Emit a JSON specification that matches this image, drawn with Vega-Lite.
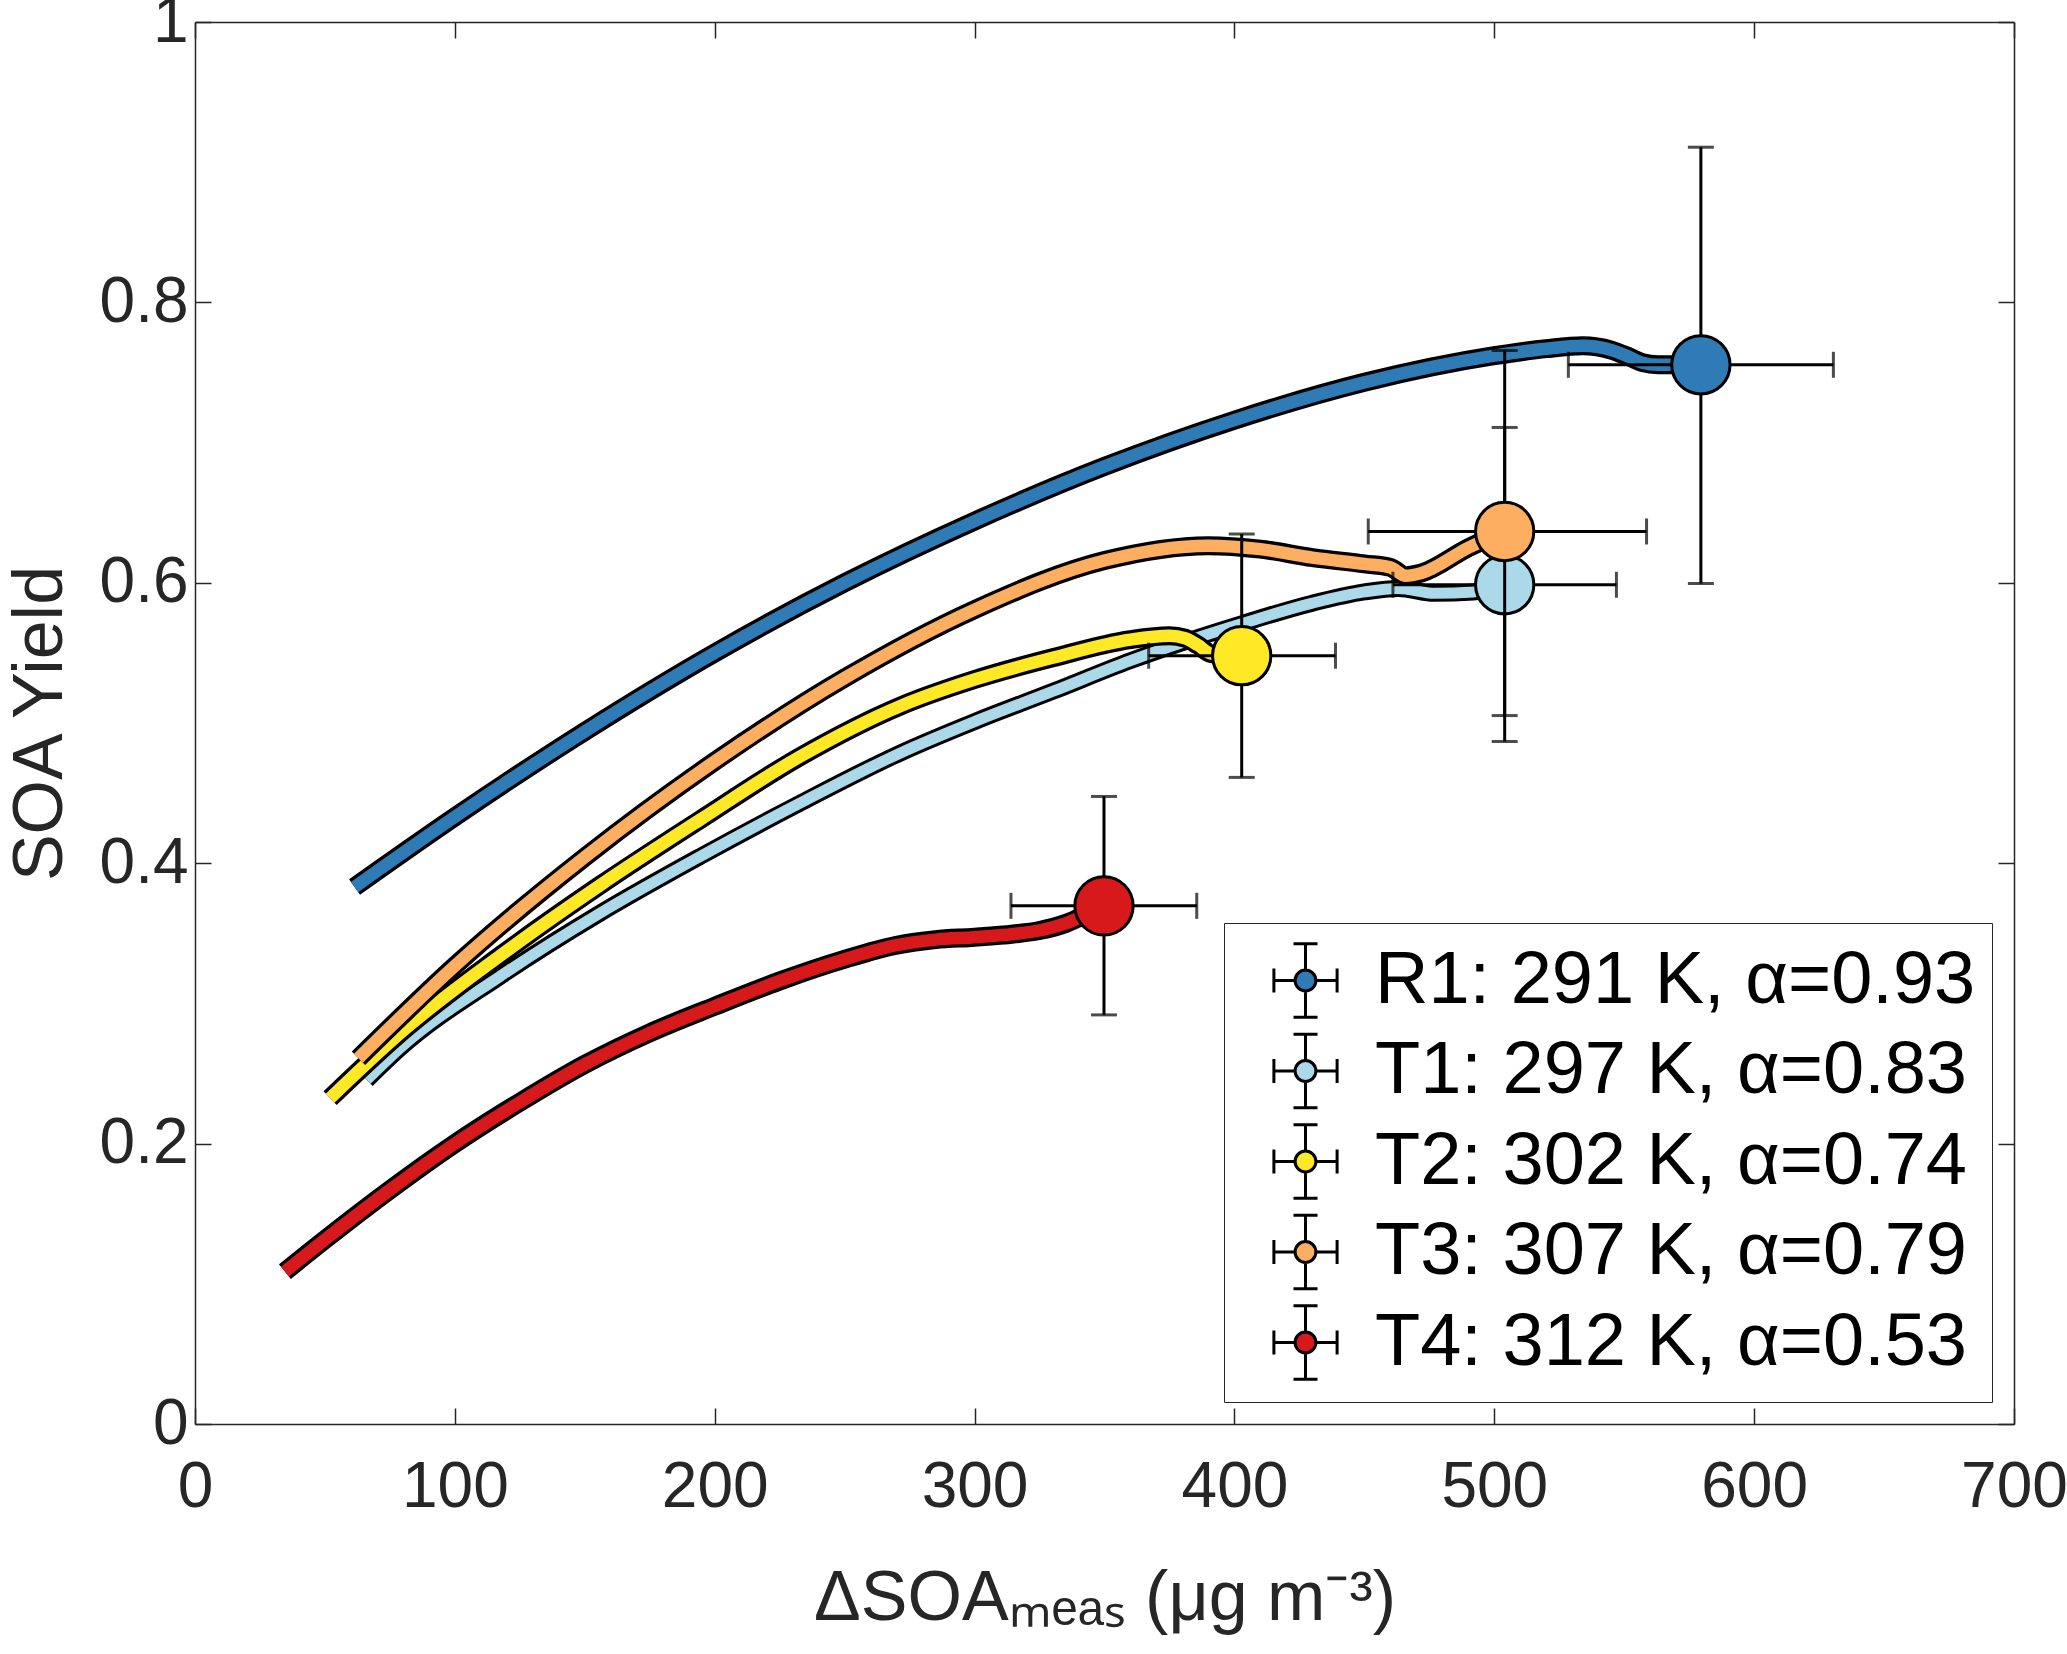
{
  "$schema": "https://vega.github.io/schema/vega-lite/v6.json",
  "width": 1819,
  "height": 1402,
  "autosize": {"type": "none"},
  "padding": {"left": 195, "top": 22, "right": 53, "bottom": 230},
  "background": "white",
  "config": {
    "view": {"stroke": null},
    "font": "Liberation Sans",
    "axis": {
      "domainColor": "#262626", "domainWidth": 1.5,
      "tickColor": "#262626", "tickWidth": 1.5, "tickSize": -16,
      "labelColor": "#262626", "labelFontSize": 64, "labelFont": "Liberation Sans",
      "titleFont": "Liberation Sans", "titleFontSize": 70, "titleFontWeight": "normal", "titleColor": "#262626",
      "grid": false, "labelFlush": false, "labelOverlap": false
    },
    "legend": {
      "orient": "bottom-right", "offset": 22, "padding": 16, "rowPadding": 3.5, "titlePadding": 0,
      "symbolOffset": 24, "labelOffset": 28, "labelFontSize": 74, "labelFont": "Liberation Sans",
      "labelColor": "black", "labelLimit": 1000, "strokeColor": "#262626", "fillColor": "white",
      "symbolSize": 6400, "symbolStrokeColor": "black", "symbolStrokeWidth": 3
    }
  },
  "datasets": {
    "curves": [
      {"s": "R1", "x": 61.4, "y": 0.383}, {"s": "R1", "x": 100, "y": 0.433}, {"s": "R1", "x": 150, "y": 0.494},
      {"s": "R1", "x": 200, "y": 0.55}, {"s": "R1", "x": 250, "y": 0.6}, {"s": "R1", "x": 300, "y": 0.644},
      {"s": "R1", "x": 350, "y": 0.683}, {"s": "R1", "x": 400, "y": 0.716}, {"s": "R1", "x": 450, "y": 0.743},
      {"s": "R1", "x": 500, "y": 0.762}, {"s": "R1", "x": 520, "y": 0.767}, {"s": "R1", "x": 534, "y": 0.769},
      {"s": "R1", "x": 545, "y": 0.766}, {"s": "R1", "x": 552, "y": 0.761}, {"s": "R1", "x": 557, "y": 0.757},
      {"s": "R1", "x": 563, "y": 0.7555}, {"s": "R1", "x": 580, "y": 0.7555},
      {"s": "T1", "x": 66.1, "y": 0.2454}, {"s": "T1", "x": 78.9, "y": 0.268}, {"s": "T1", "x": 117.4, "y": 0.3193},
      {"s": "T1", "x": 155.9, "y": 0.3644}, {"s": "T1", "x": 194.3, "y": 0.4047}, {"s": "T1", "x": 232.8, "y": 0.4428},
      {"s": "T1", "x": 271.3, "y": 0.4785}, {"s": "T1", "x": 300, "y": 0.501}, {"s": "T1", "x": 330, "y": 0.5225},
      {"s": "T1", "x": 360, "y": 0.5445}, {"s": "T1", "x": 404, "y": 0.5715}, {"s": "T1", "x": 430, "y": 0.5855},
      {"s": "T1", "x": 450, "y": 0.5935}, {"s": "T1", "x": 463, "y": 0.596}, {"s": "T1", "x": 477, "y": 0.5925},
      {"s": "T1", "x": 492, "y": 0.5935}, {"s": "T1", "x": 504, "y": 0.5986},
      {"s": "T2", "x": 52, "y": 0.2324}, {"s": "T2", "x": 78.9, "y": 0.2787}, {"s": "T2", "x": 117.4, "y": 0.334},
      {"s": "T2", "x": 155.9, "y": 0.3843}, {"s": "T2", "x": 194.3, "y": 0.4309}, {"s": "T2", "x": 232.8, "y": 0.476},
      {"s": "T2", "x": 271.3, "y": 0.512}, {"s": "T2", "x": 300, "y": 0.531}, {"s": "T2", "x": 330, "y": 0.5465},
      {"s": "T2", "x": 360, "y": 0.5595}, {"s": "T2", "x": 375, "y": 0.5622}, {"s": "T2", "x": 381, "y": 0.5605},
      {"s": "T2", "x": 386, "y": 0.5555}, {"s": "T2", "x": 391, "y": 0.5495}, {"s": "T2", "x": 402.8, "y": 0.548},
      {"s": "T3", "x": 62.9, "y": 0.2609}, {"s": "T3", "x": 100, "y": 0.3268}, {"s": "T3", "x": 150, "y": 0.4043},
      {"s": "T3", "x": 200, "y": 0.4726}, {"s": "T3", "x": 250, "y": 0.5321}, {"s": "T3", "x": 300, "y": 0.5809},
      {"s": "T3", "x": 350, "y": 0.6159}, {"s": "T3", "x": 390, "y": 0.6265}, {"s": "T3", "x": 410, "y": 0.624},
      {"s": "T3", "x": 430, "y": 0.618}, {"s": "T3", "x": 450, "y": 0.6135}, {"s": "T3", "x": 460, "y": 0.611},
      {"s": "T3", "x": 466, "y": 0.605}, {"s": "T3", "x": 472, "y": 0.607}, {"s": "T3", "x": 490, "y": 0.625},
      {"s": "T3", "x": 504, "y": 0.6366},
      {"s": "T4", "x": 34.6, "y": 0.1087}, {"s": "T4", "x": 50, "y": 0.1315}, {"s": "T4", "x": 75, "y": 0.167},
      {"s": "T4", "x": 100, "y": 0.2}, {"s": "T4", "x": 125, "y": 0.2295}, {"s": "T4", "x": 150, "y": 0.2565},
      {"s": "T4", "x": 175, "y": 0.279}, {"s": "T4", "x": 200, "y": 0.298}, {"s": "T4", "x": 225, "y": 0.316},
      {"s": "T4", "x": 250, "y": 0.3315}, {"s": "T4", "x": 270, "y": 0.3415}, {"s": "T4", "x": 285, "y": 0.3455},
      {"s": "T4", "x": 300, "y": 0.3472}, {"s": "T4", "x": 315, "y": 0.3495}, {"s": "T4", "x": 325, "y": 0.352},
      {"s": "T4", "x": 335, "y": 0.357}, {"s": "T4", "x": 343, "y": 0.3635}, {"s": "T4", "x": 349.8, "y": 0.3696}
    ],
    "pts": [
      {"s": "R1: 291 K, α=0.93", "g": "A", "x": 579.5, "y": 0.7555, "xlo": 528.5, "xhi": 630.5, "ylo": 0.5995, "yhi": 0.9107},
      {"s": "T1: 297 K, α=0.83", "g": "A", "x": 504, "y": 0.5986, "xlo": 461, "xhi": 547, "ylo": 0.4868, "yhi": 0.7108},
      {"s": "T2: 302 K, α=0.74", "g": "A", "x": 402.8, "y": 0.548, "xlo": 367, "xhi": 438.9, "ylo": 0.4612, "yhi": 0.6348},
      {"s": "T3: 307 K, α=0.79", "g": "B", "x": 504, "y": 0.6366, "xlo": 451.5, "xhi": 558.6, "ylo": 0.5053, "yhi": 0.7657},
      {"s": "T4: 312 K, α=0.53", "g": "B", "x": 349.8, "y": 0.3696, "xlo": 314, "xhi": 385.5, "ylo": 0.2918, "yhi": 0.4476}
    ]
  },
  "encoding": {
    "x": {"field": "x", "type": "quantitative", "scale": {"domain": [0, 700], "nice": false, "zero": false}, "axis": null},
    "y": {"field": "y", "type": "quantitative", "scale": {"domain": [0, 1], "nice": false, "zero": false}, "axis": null}
  },
  "layer": [
    {
      "data": {"name": "pts"},
      "mark": {"type": "point", "opacity": 0},
      "encoding": {
        "x": {"field": "x", "type": "quantitative", "scale": {"domain": [0, 700], "nice": false, "zero": false},
              "axis": {"orient": "bottom", "values": [0, 100, 200, 300, 400, 500, 600, 700], "title": "ΔSOAₘₑₐₛ (μg m⁻³)", "labelPadding": 47, "titlePadding": 45}},
        "y": {"field": "y", "type": "quantitative", "scale": {"domain": [0, 1], "nice": false, "zero": false},
              "axis": {"orient": "left", "values": [0, 0.2, 0.4, 0.6, 0.8, 1], "format": "~g", "title": "SOA Yield", "labelPadding": 23, "titlePadding": 23}}
      }
    },
    {
      "data": {"name": "pts"},
      "mark": {"type": "point", "opacity": 0},
      "encoding": {
        "x": {"field": "x", "type": "quantitative", "scale": {"domain": [0, 700], "nice": false, "zero": false},
              "axis": {"orient": "top", "values": [0, 100, 200, 300, 400, 500, 600, 700], "labels": false, "title": null}},
        "y": {"field": "y", "type": "quantitative", "scale": {"domain": [0, 1], "nice": false, "zero": false},
              "axis": {"orient": "right", "values": [0, 0.2, 0.4, 0.6, 0.8, 1], "labels": false, "title": null}}
      }
    },
    {"data": {"name": "curves"}, "transform": [{"filter": "datum.s === 'R1'"}], "mark": {"type": "line", "color": "black", "strokeWidth": 19, "interpolate": "monotone", "strokeCap": "butt"}},
    {"data": {"name": "curves"}, "transform": [{"filter": "datum.s === 'R1'"}], "mark": {"type": "line", "color": "#2e7bb6", "strokeWidth": 12.5, "interpolate": "monotone", "strokeCap": "butt"}},
    {"data": {"name": "curves"}, "transform": [{"filter": "datum.s === 'T1'"}], "mark": {"type": "line", "color": "black", "strokeWidth": 17, "interpolate": "monotone", "strokeCap": "butt"}},
    {"data": {"name": "curves"}, "transform": [{"filter": "datum.s === 'T1'"}], "mark": {"type": "line", "color": "#abd9e9", "strokeWidth": 11, "interpolate": "monotone", "strokeCap": "butt"}},
    {"data": {"name": "curves"}, "transform": [{"filter": "datum.s === 'T2'"}], "mark": {"type": "line", "color": "black", "strokeWidth": 19, "interpolate": "monotone", "strokeCap": "butt"}},
    {"data": {"name": "curves"}, "transform": [{"filter": "datum.s === 'T2'"}], "mark": {"type": "line", "color": "#ffe826", "strokeWidth": 12.5, "interpolate": "monotone", "strokeCap": "butt"}},
    {"data": {"name": "curves"}, "transform": [{"filter": "datum.s === 'T3'"}], "mark": {"type": "line", "color": "black", "strokeWidth": 19, "interpolate": "monotone", "strokeCap": "butt"}},
    {"data": {"name": "curves"}, "transform": [{"filter": "datum.s === 'T3'"}], "mark": {"type": "line", "color": "#fdae61", "strokeWidth": 12.5, "interpolate": "monotone", "strokeCap": "butt"}},
    {"data": {"name": "curves"}, "transform": [{"filter": "datum.s === 'T4'"}], "mark": {"type": "line", "color": "black", "strokeWidth": 19, "interpolate": "monotone", "strokeCap": "butt"}},
    {"data": {"name": "curves"}, "transform": [{"filter": "datum.s === 'T4'"}], "mark": {"type": "line", "color": "#d7191c", "strokeWidth": 12.5, "interpolate": "monotone", "strokeCap": "butt"}},
    {
      "data": {"name": "pts"}, "transform": [{"filter": "datum.g === 'A'"}],
      "mark": {"type": "rule", "color": "black", "strokeWidth": 3},
      "encoding": {"y": {"field": "ylo", "type": "quantitative", "scale": {"domain": [0, 1], "nice": false, "zero": false}, "axis": null}, "y2": {"field": "yhi"}}
    },
    {
      "data": {"name": "pts"}, "transform": [{"filter": "datum.g === 'A'"}],
      "mark": {"type": "rule", "color": "black", "strokeWidth": 3},
      "encoding": {"x": {"field": "xlo", "type": "quantitative", "scale": {"domain": [0, 700], "nice": false, "zero": false}, "axis": null}, "x2": {"field": "xhi"}}
    },
    {
      "data": {"name": "pts"}, "transform": [{"filter": "datum.g === 'A'"}],
      "mark": {"type": "tick", "color": "black", "orient": "horizontal", "size": 26, "thickness": 3},
      "encoding": {"y": {"field": "ylo", "type": "quantitative", "scale": {"domain": [0, 1], "nice": false, "zero": false}, "axis": null}}
    },
    {
      "data": {"name": "pts"}, "transform": [{"filter": "datum.g === 'A'"}],
      "mark": {"type": "tick", "color": "black", "orient": "horizontal", "size": 26, "thickness": 3},
      "encoding": {"y": {"field": "yhi", "type": "quantitative", "scale": {"domain": [0, 1], "nice": false, "zero": false}, "axis": null}}
    },
    {
      "data": {"name": "pts"}, "transform": [{"filter": "datum.g === 'A'"}],
      "mark": {"type": "tick", "color": "black", "orient": "vertical", "size": 26, "thickness": 3},
      "encoding": {"x": {"field": "xlo", "type": "quantitative", "scale": {"domain": [0, 700], "nice": false, "zero": false}, "axis": null}}
    },
    {
      "data": {"name": "pts"}, "transform": [{"filter": "datum.g === 'A'"}],
      "mark": {"type": "tick", "color": "black", "orient": "vertical", "size": 26, "thickness": 3},
      "encoding": {"x": {"field": "xhi", "type": "quantitative", "scale": {"domain": [0, 700], "nice": false, "zero": false}, "axis": null}}
    },
    {
      "data": {"name": "pts"}, "transform": [{"filter": "datum.g === 'A'"}],
      "mark": {"type": "point", "filled": true, "size": 3400, "stroke": "black", "strokeWidth": 3, "opacity": 1},
      "encoding": {
        "fill": {"field": "s", "type": "nominal", "title": null,
                 "scale": {"domain": ["R1: 291 K, α=0.93", "T1: 297 K, α=0.83", "T2: 302 K, α=0.74", "T3: 307 K, α=0.79", "T4: 312 K, α=0.53"],
                           "range": ["#2e7bb6", "#abd9e9", "#ffe826", "#fdae61", "#d7191c"]},
                 "legend": {"symbolType": "M0.26,0A0.26,0.26,0,1,1,-0.26,0A0.26,0.26,0,1,1,0.26,0ZM-0.79,0L-0.26,0M0.26,0L0.79,0M0,-0.92L0,-0.26M0,0.26L0,0.92M-0.79,-0.3L-0.79,0.3M0.79,-0.3L0.79,0.3M-0.3,-0.92L0.3,-0.92M-0.3,0.92L0.3,0.92",
                            "symbolSize": 6400, "symbolStrokeColor": "black", "symbolStrokeWidth": 3}}
      }
    },
    {
      "data": {"name": "pts"}, "transform": [{"filter": "datum.g === 'B'"}],
      "mark": {"type": "rule", "color": "black", "strokeWidth": 3},
      "encoding": {"y": {"field": "ylo", "type": "quantitative", "scale": {"domain": [0, 1], "nice": false, "zero": false}, "axis": null}, "y2": {"field": "yhi"}}
    },
    {
      "data": {"name": "pts"}, "transform": [{"filter": "datum.g === 'B'"}],
      "mark": {"type": "rule", "color": "black", "strokeWidth": 3},
      "encoding": {"x": {"field": "xlo", "type": "quantitative", "scale": {"domain": [0, 700], "nice": false, "zero": false}, "axis": null}, "x2": {"field": "xhi"}}
    },
    {
      "data": {"name": "pts"}, "transform": [{"filter": "datum.g === 'B'"}],
      "mark": {"type": "tick", "color": "black", "orient": "horizontal", "size": 26, "thickness": 3},
      "encoding": {"y": {"field": "ylo", "type": "quantitative", "scale": {"domain": [0, 1], "nice": false, "zero": false}, "axis": null}}
    },
    {
      "data": {"name": "pts"}, "transform": [{"filter": "datum.g === 'B'"}],
      "mark": {"type": "tick", "color": "black", "orient": "horizontal", "size": 26, "thickness": 3},
      "encoding": {"y": {"field": "yhi", "type": "quantitative", "scale": {"domain": [0, 1], "nice": false, "zero": false}, "axis": null}}
    },
    {
      "data": {"name": "pts"}, "transform": [{"filter": "datum.g === 'B'"}],
      "mark": {"type": "tick", "color": "black", "orient": "vertical", "size": 26, "thickness": 3},
      "encoding": {"x": {"field": "xlo", "type": "quantitative", "scale": {"domain": [0, 700], "nice": false, "zero": false}, "axis": null}}
    },
    {
      "data": {"name": "pts"}, "transform": [{"filter": "datum.g === 'B'"}],
      "mark": {"type": "tick", "color": "black", "orient": "vertical", "size": 26, "thickness": 3},
      "encoding": {"x": {"field": "xhi", "type": "quantitative", "scale": {"domain": [0, 700], "nice": false, "zero": false}, "axis": null}}
    },
    {
      "data": {"name": "pts"}, "transform": [{"filter": "datum.g === 'B'"}],
      "mark": {"type": "point", "filled": true, "size": 3400, "stroke": "black", "strokeWidth": 3, "opacity": 1},
      "encoding": {
        "fill": {"field": "s", "type": "nominal", "title": null,
                 "scale": {"domain": ["R1: 291 K, α=0.93", "T1: 297 K, α=0.83", "T2: 302 K, α=0.74", "T3: 307 K, α=0.79", "T4: 312 K, α=0.53"],
                           "range": ["#2e7bb6", "#abd9e9", "#ffe826", "#fdae61", "#d7191c"]},
                 "legend": {"symbolType": "M0.26,0A0.26,0.26,0,1,1,-0.26,0A0.26,0.26,0,1,1,0.26,0ZM-0.79,0L-0.26,0M0.26,0L0.79,0M0,-0.92L0,-0.26M0,0.26L0,0.92M-0.79,-0.3L-0.79,0.3M0.79,-0.3L0.79,0.3M-0.3,-0.92L0.3,-0.92M-0.3,0.92L0.3,0.92",
                            "symbolSize": 6400, "symbolStrokeColor": "black", "symbolStrokeWidth": 3}}
      }
    }
  ],
  "resolve": {"axis": {"x": "independent", "y": "independent"}}
}
